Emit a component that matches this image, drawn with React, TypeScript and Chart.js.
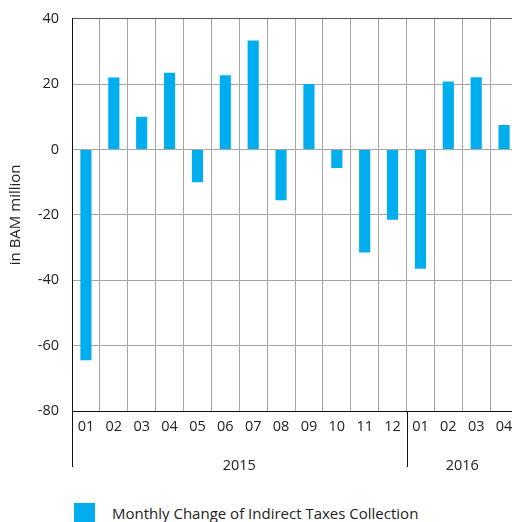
import React, { useEffect, useRef } from "react";
import { Chart, registerables } from "chart.js";

Chart.register(...registerables);

const monthLabels = ["01", "02", "03", "04", "05", "06", "07", "08", "09", "10", "11", "12", "01", "02", "03", "04"];
const yearLabels = ["2015", "2016"];
const yearSpans = [12, 4];
const changeValues = [-64.5, 22, 10, 23.5, -10, 22.7, 33.3, -15.5, 20, -5.7, -31.5, -21.5, -36.5, 20.8, 22.1, 7.5];
const seriesName = "Monthly Change of Indirect Taxes Collection";
const axisTitle = "in BAM million";
const yMin = -80;
const yMax = 40;
const yStep = 20;

const FONT = "'Open Sans', 'Noto Sans', sans-serif";
const BAR = "#00aeef";

const yearGroupPlugin = {
  id: "yearGroups",
  afterDraw(chart: any) {
    const xs = chart.scales.x;
    const ctx = chart.ctx;
    const n = monthLabels.length;
    const cw = (xs.right - xs.left) / n;
    const top = xs.top;
    const bottom = xs.top + 56;
    ctx.save();
    ctx.strokeStyle = "#111";
    ctx.lineWidth = 1;
    ctx.fillStyle = "#222";
    ctx.font = `14.5px ${FONT}`;
    ctx.textAlign = "center";
    ctx.textBaseline = "middle";
    let start = 0;
    yearLabels.forEach((lab, i) => {
      const x0 = xs.getPixelForValue(start) - cw / 2;
      const x1 = xs.getPixelForValue(start + yearSpans[i] - 1) + cw / 2;
      const px = Math.round(x0) + 0.5;
      ctx.beginPath();
      ctx.moveTo(px, top);
      ctx.lineTo(px, bottom);
      ctx.stroke();
      ctx.fillText(lab, (x0 + x1) / 2, xs.top + 55);
      start += yearSpans[i];
    });
    ctx.restore();
  },
};

export default function App() {
  const ref = useRef<HTMLCanvasElement | null>(null);
  useEffect(() => {
    if (!ref.current) return;
    const chart = new Chart(ref.current, {
      type: "bar",
      data: {
        labels: monthLabels,
        datasets: [
          {
            label: seriesName,
            data: changeValues,
            backgroundColor: BAR,
            borderWidth: 0,
            barPercentage: 0.4,
            categoryPercentage: 1,
          },
        ],
      },
      options: {
        animation: false,
        responsive: false,
        maintainAspectRatio: false,
        layout: { padding: { top: 17, right: 12, left: 0, bottom: 0 } },
        plugins: {
          legend: { display: false },
          tooltip: { enabled: false },
        },
        scales: {
          x: {
            grid: { offset: true, color: "#a6a6a6", drawTicks: false },
            border: { color: "#111", width: 1 },
            ticks: { color: "#222", font: { family: FONT, size: 14.5 }, padding: 7, maxRotation: 0, autoSkip: false },
            afterFit(scale: any) {
              scale.height = 79;
            },
          },
          y: {
            min: yMin,
            max: yMax,
            ticks: {
              stepSize: yStep,
              color: "#222",
              font: { family: FONT, size: 14.5 },
              padding: 13,
              callback: (v: any) => String(v),
            },
            grid: {
              drawTicks: false,
              color: (c: any) => (c.tick && c.tick.value === yMax ? "#555" : "#a6a6a6"),
            },
            border: { color: "#111", width: 1 },
            title: {
              display: true,
              text: axisTitle,
              color: "#222",
              font: { family: FONT, size: 15 },
              padding: { top: 7, bottom: 4 },
            },
            afterFit(scale: any) {
              scale.width = 72;
            },
          },
        },
      },
      plugins: [yearGroupPlugin],
    });
    return () => chart.destroy();
  }, []);

  return (
    <div style={{ position: "fixed", left: 0, top: -3, width: 530, height: 525, overflow: "hidden", background: "#fff" }}>
      <canvas ref={ref} width={530} height={493} style={{ display: "block" }} />
      <div
        style={{
          position: "absolute",
          left: 74,
          top: 506,
          display: "flex",
          alignItems: "center",
          fontFamily: FONT,
          fontSize: 15,
          color: "#222",
          whiteSpace: "nowrap",
        }}
      >
        <span style={{ display: "inline-block", width: 21, height: 20, background: BAR, marginRight: 17 }} />
        <span>{seriesName}</span>
      </div>
    </div>
  );
}
